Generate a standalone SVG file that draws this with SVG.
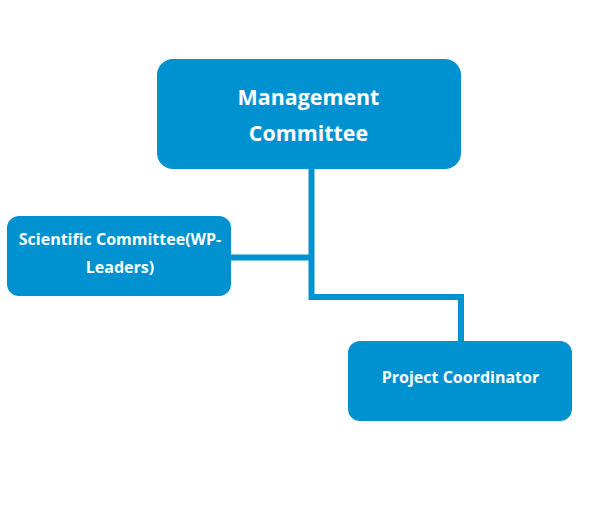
<svg xmlns="http://www.w3.org/2000/svg" width="596" height="506" viewBox="0 0 596 506">
<style>
.box{fill:#0092d0;}
.lbl{font-family:"Open Sans","Noto Sans",sans-serif;font-weight:bold;fill:#ffffff;text-anchor:middle;}
.conn{fill:none;stroke:#0092d0;stroke-width:6;}
</style>
<rect width="596" height="506" fill="#ffffff"/>
<g id="connectors">
<path class="conn" d="M311.5 168 V297 H461 V342"/>
<path class="conn" d="M230 257.5 H311.5"/>
</g>
<g id="management">
<rect class="box" x="157" y="59" width="304" height="110" rx="16"/>
<text class="lbl" x="308.5" y="105" font-size="21.4">Management</text>
<text class="lbl" x="308.5" y="141" font-size="21.4">Committee</text>
</g>
<g id="scientific">
<rect class="box" x="7" y="216" width="224" height="80" rx="12"/>
<text class="lbl" x="120" y="245" font-size="16">Scientific Committee(WP-</text>
<text class="lbl" x="120" y="273" font-size="16">Leaders)</text>
</g>
<g id="coordinator">
<rect class="box" x="348" y="341" width="224" height="80" rx="12"/>
<text class="lbl" x="460.5" y="383" font-size="16">Project Coordinator</text>
</g>
</svg>
